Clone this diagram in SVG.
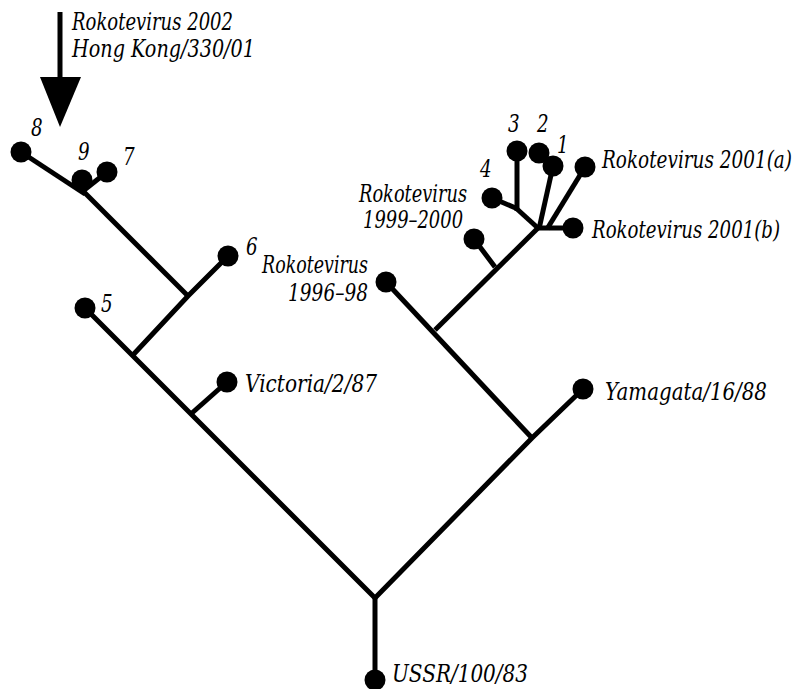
<svg xmlns="http://www.w3.org/2000/svg" width="797" height="689" viewBox="0 0 797 689">
<style>
.e{fill:none;stroke:#000;stroke-width:5;stroke-linejoin:miter}
.leaf{fill:#000}
text{font-family:"DejaVu Serif","Liberation Serif",serif;font-style:italic;font-size:24.7px;fill:#000}
.r{text-anchor:end}
</style>
<rect width="797" height="689" fill="#fff"/>
<g id="connectors">
<path class="e" d="M85,308 L375,598 L532,438 L583,389"/>
<path class="e" d="M375,596 V680"/>
<path class="e" d="M192,413 L227,382"/>
<path class="e" d="M132,356 L188,296 L228,256"/>
<path class="e" d="M188,296 L82,190"/>
<path class="e" d="M21,152 L85,194"/>
<path class="e" d="M82,192 V180"/>
<path class="e" d="M83,191 L107,172"/>
<path class="e" d="M532,438 L386,282"/>
<path class="e" d="M435,330 L539,227"/>
<path class="e" d="M495,267 L474,239"/>
<path class="e" d="M536,228 H573"/>
<path class="e" d="M547,229 L585,167"/>
<path class="e" d="M539,229 L553,166"/>
<path class="e" d="M539,229 L517,209"/>
<path class="e" d="M517,211 V151"/>
<path class="e" d="M518,209 L492,198"/>
</g>
<g id="arrow">
<rect x="57.5" y="12" width="5" height="68" fill="#000"/>
<polygon points="40,77 81,77 60,127" fill="#000"/>
<text transform="translate(72,30) scale(0.74,1)" textLength="217.6" lengthAdjust="spacingAndGlyphs">Rokotevirus 2002</text>
<text transform="translate(72,57) scale(0.74,1)" textLength="247.3" lengthAdjust="spacingAndGlyphs">Hong Kong/330/01</text>
</g>
<g id="n8"><circle class="leaf" cx="21" cy="152" r="10.5"/><text transform="translate(31,136) scale(0.74,1)">8</text></g>
<g id="n9"><circle class="leaf" cx="82" cy="180" r="10.5"/><text transform="translate(78,160) scale(0.74,1)">9</text></g>
<g id="n7"><circle class="leaf" cx="107" cy="172" r="10.5"/><text transform="translate(123,165) scale(0.74,1)">7</text></g>
<g id="n6"><circle class="leaf" cx="228" cy="256" r="10.5"/><text transform="translate(246,255) scale(0.74,1)">6</text></g>
<g id="n5"><circle class="leaf" cx="85" cy="308" r="10.5"/><text transform="translate(101,312) scale(0.74,1)">5</text></g>
<g id="victoria"><circle class="leaf" cx="227" cy="382" r="10.5"/><text transform="translate(245,392) scale(0.74,1)" textLength="178.4" lengthAdjust="spacingAndGlyphs">Victoria/2/87</text></g>
<g id="r1996"><circle class="leaf" cx="386" cy="282" r="10.5"/><text class="r" transform="translate(368,273) scale(0.74,1)" textLength="143.2" lengthAdjust="spacingAndGlyphs">Rokotevirus</text><text class="r" transform="translate(368,301) scale(0.74,1)" textLength="108.1" lengthAdjust="spacingAndGlyphs">1996–98</text></g>
<g id="r1999"><circle class="leaf" cx="474" cy="239" r="10.5"/><text class="r" transform="translate(467,202) scale(0.74,1)" textLength="145.9" lengthAdjust="spacingAndGlyphs">Rokotevirus</text><text class="r" transform="translate(463,228) scale(0.74,1)" textLength="135.1" lengthAdjust="spacingAndGlyphs">1999–2000</text></g>
<g id="n4"><circle class="leaf" cx="492" cy="198" r="10.5"/><text transform="translate(480,177) scale(0.74,1)">4</text></g>
<g id="n3"><circle class="leaf" cx="517" cy="151" r="10.5"/><text transform="translate(508,132) scale(0.74,1)">3</text></g>
<g id="n2"><circle class="leaf" cx="539" cy="153" r="10.5"/><text transform="translate(537,132) scale(0.74,1)">2</text></g>
<g id="n1"><circle class="leaf" cx="553" cy="166" r="10.5"/><text transform="translate(557,153) scale(0.74,1)">1</text></g>
<g id="r2001a"><circle class="leaf" cx="585" cy="167" r="10.5"/><text transform="translate(602,168) scale(0.74,1)" textLength="256.8" lengthAdjust="spacingAndGlyphs">Rokotevirus 2001(a)</text></g>
<g id="r2001b"><circle class="leaf" cx="573" cy="228" r="10.5"/><text transform="translate(592,238) scale(0.74,1)" textLength="254.1" lengthAdjust="spacingAndGlyphs">Rokotevirus 2001(b)</text></g>
<g id="yamagata"><circle class="leaf" cx="583" cy="389" r="10.5"/><text transform="translate(605,400) scale(0.74,1)" textLength="218.9" lengthAdjust="spacingAndGlyphs">Yamagata/16/88</text></g>
<g id="ussr"><circle class="leaf" cx="375" cy="680" r="10.5"/><text transform="translate(392,682) scale(0.74,1)" textLength="183.8" lengthAdjust="spacingAndGlyphs">USSR/100/83</text></g>
</svg>
